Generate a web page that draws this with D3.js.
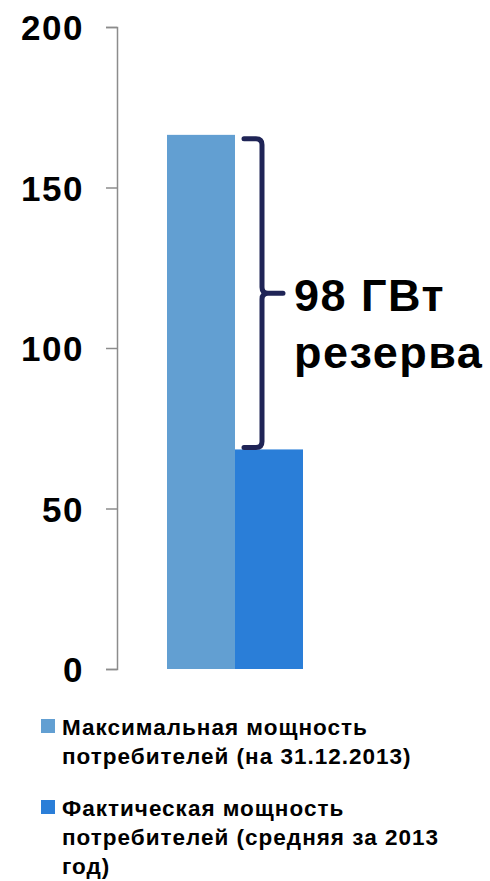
<!DOCTYPE html>
<html>
<head>
<meta charset="utf-8">
<script src="https://cdn.jsdelivr.net/npm/d3@7"></script>
<style>
  html, body { margin: 0; padding: 0; background: #fff; }
  svg { display: block; }
</style>
</head>
<body>
<svg id="chart" width="490" height="881"></svg>
<script>
// Capacity figures, GW
const seriesNames = [
  "Максимальная мощность потребителей (на 31.12.2013)",
  "Фактическая мощность потребителей (средняя за 2013 год)"
];
const seriesValues = [166.4, 68.4];
const seriesColors = ["#629fd2", "#2a7ed8"];
const legendLines = [
  ["Максимальная мощность", "потребителей (на 31.12.2013)"],
  ["Фактическая мощность", "потребителей (средняя за 2013", "год)"]
];
const yTicks = [0, 50, 100, 150, 200];
const reserveLabel = ["98 ГВт", "резерва"];

const svg = d3.select("#chart");
const font = "'Liberation Sans', Arial, sans-serif";

const y = d3.scaleLinear().domain([0, 200]).range([669, 27]);
const x = d3.scaleBand().domain(seriesNames).range([167, 303]).padding(0);

// Axis
const axis = svg.append("g")
  .attr("transform", "translate(117,0)")
  .call(d3.axisLeft(y).tickValues(yTicks).tickSize(11).tickPadding(22));
axis.select(".domain").attr("stroke", "#8c8c8c").attr("stroke-width", 1.5);
axis.selectAll(".tick line").attr("stroke", "#8c8c8c").attr("stroke-width", 1.5);
axis.selectAll(".tick text")
  .attr("fill", "#000")
  .style("font-family", font)
  .style("font-weight", "bold")
  .style("font-size", "35px")
  .style("letter-spacing", "1.5px")
  .attr("dy", "0.36em");

// Bars
svg.append("g").selectAll("rect")
  .data(seriesNames)
  .join("rect")
  .attr("x", d => x(d))
  .attr("width", x.bandwidth())
  .attr("y", (d, i) => y(seriesValues[i]))
  .attr("height", (d, i) => y(0) - y(seriesValues[i]))
  .attr("fill", (d, i) => seriesColors[i]);

// Curly bracket spanning the gap between the two values
const bTop = y(seriesValues[0]) + 4;
const bBot = y(seriesValues[1]) - 2;
const bMid = (bTop + bBot) / 2;
const bx = 262, r = 6;
const bracket = d3.path();
bracket.moveTo(244, bTop);
bracket.lineTo(bx - r, bTop);
bracket.quadraticCurveTo(bx, bTop, bx, bTop + r);
bracket.lineTo(bx, bMid - r);
bracket.quadraticCurveTo(bx, bMid, bx + r, bMid);
bracket.lineTo(283, bMid);
bracket.moveTo(bx + r, bMid);
bracket.quadraticCurveTo(bx, bMid, bx, bMid + r);
bracket.lineTo(bx, bBot - r);
bracket.quadraticCurveTo(bx, bBot, bx - r, bBot);
bracket.lineTo(244, bBot);
svg.append("path")
  .attr("d", bracket.toString())
  .attr("fill", "none")
  .attr("stroke", "#1f2456")
  .attr("stroke-width", 5)
  .attr("stroke-linecap", "round");

// Reserve label
svg.append("g").selectAll("text")
  .data(reserveLabel)
  .join("text")
  .attr("x", 294)
  .attr("y", (d, i) => 311 + i * 57)
  .attr("fill", "#000")
  .style("font-family", font)
  .style("font-weight", "bold")
  .style("font-size", "45px")
  .style("letter-spacing", "1.5px")
  .text(d => d);

// Legend
const legend = svg.append("g");
const legendBase = [735, 816];
seriesNames.forEach((name, i) => {
  const g = legend.append("g");
  g.append("rect")
    .attr("x", 41).attr("y", legendBase[i] - 16)
    .attr("width", 14).attr("height", 14)
    .attr("fill", seriesColors[i]);
  g.selectAll("text")
    .data(legendLines[i])
    .join("text")
    .attr("x", 62)
    .attr("y", (d, j) => legendBase[i] + j * 29)
    .attr("fill", "#000")
    .style("font-family", font)
    .style("font-weight", "bold")
    .style("font-size", "22.5px")
    .style("letter-spacing", "1px")
    .text(d => d);
});
</script>
</body>
</html>
